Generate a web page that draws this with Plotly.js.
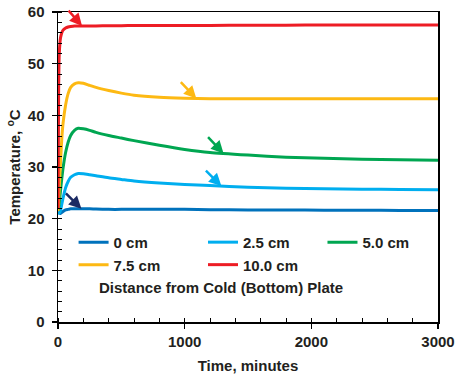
<!DOCTYPE html>
<html>
<head>
<meta charset="utf-8">
<script src="https://cdn.plot.ly/plotly-3.0.1.min.js"></script>
<style>html,body{margin:0;padding:0;background:#fff;}#chart{width:457px;height:378px;}</style>
</head>
<body>
<div id="chart"></div>
<script>
// ---- data ----
const timeMin = [0, 5, 10, 20, 30, 40, 60, 80, 100, 130, 160, 200, 250, 300, 400, 500, 600, 800, 1000, 1200, 1500, 1800, 2100, 2400, 2700, 3000];
const seriesNames = ["0 cm", "2.5 cm", "5.0 cm", "7.5 cm", "10.0 cm"];
const temp0cm   = [21.3, 21.2, 21.1, 21.0, 21.2, 21.4, 21.7, 21.8, 21.9, 21.9, 21.9, 21.9, 21.9, 21.85, 21.8, 21.8, 21.8, 21.8, 21.8, 21.75, 21.7, 21.7, 21.65, 21.65, 21.6, 21.6];
const temp25cm  = [21.2, 21.1, 21.1, 21.6, 22.8, 24.0, 26.0, 27.2, 28.0, 28.5, 28.75, 28.7, 28.5, 28.3, 27.9, 27.6, 27.3, 26.9, 26.6, 26.4, 26.1, 25.9, 25.8, 25.7, 25.65, 25.6];
const temp50cm  = [21.5, 22.0, 23.0, 25.5, 27.8, 29.8, 32.8, 34.8, 36.1, 37.1, 37.5, 37.4, 37.1, 36.7, 36.1, 35.6, 35.1, 34.2, 33.4, 32.8, 32.3, 31.9, 31.7, 31.5, 31.4, 31.3];
const temp75cm  = [21.5, 23.5, 26.0, 31.0, 35.5, 38.5, 42.0, 44.2, 45.4, 46.1, 46.3, 46.2, 45.8, 45.4, 44.8, 44.3, 43.9, 43.5, 43.3, 43.2, 43.2, 43.2, 43.2, 43.2, 43.2, 43.2];
const temp100cm = [22.0, 45.0, 52.0, 55.0, 56.0, 56.5, 56.9, 57.1, 57.2, 57.3, 57.3, 57.3, 57.3, 57.3, 57.35, 57.35, 57.4, 57.4, 57.4, 57.4, 57.45, 57.45, 57.5, 57.5, 57.5, 57.5];
const xTickVals = [0, 1000, 2000, 3000];
const yTickVals = [0, 10, 20, 30, 40, 50, 60];
// times at which the pointer arrows touch each curve
const arrowTimes = [185, 1290, 1307, 1092, 190];

// ---- styles ----
const colors = ["#0072BC", "#00AEEF", "#00A651", "#FDB913", "#ED1C24"];
const arrowColors = ["#1B2A63", "#00AEEF", "#00A651", "#FDB913", "#ED1C24"];
const legendIds = ["legend", "legend2", "legend3", "legend", "legend2"];
const allTemps = [temp0cm, temp25cm, temp50cm, temp75cm, temp100cm];
const textColor = "#231F20";
const fontFam = "Liberation Sans, Arial, sans-serif";

function interp(xs, ys, x) {
  for (let i = 0; i < xs.length - 1; i++) {
    if (x >= xs[i] && x <= xs[i + 1]) {
      const f = (x - xs[i]) / (xs[i + 1] - xs[i]);
      return ys[i] + f * (ys[i + 1] - ys[i]);
    }
  }
  return ys[ys.length - 1];
}

const traces = allTemps.map((ys, i) => ({
  x: timeMin, y: ys, name: seriesNames[i], type: "scatter", mode: "lines",
  legend: legendIds[i],
  line: {color: colors[i], width: 3, shape: "spline", smoothing: 0.6}
}));

const arrowOffsets = [[-17, -17], [-17, -17], [-17, -18], [-17, -18], [-15, -17]];
const annotations = allTemps.map((ys, i) => ({
  x: arrowTimes[i], y: interp(timeMin, ys, arrowTimes[i]), xref: "x", yref: "y",
  ax: arrowOffsets[i][0], ay: arrowOffsets[i][1], axref: "pixel", ayref: "pixel",
  showarrow: true, arrowhead: 2, arrowsize: 1, arrowwidth: 2.5, arrowcolor: arrowColors[i],
  text: " ", font: {size: 1}
}));
annotations.push({
  x: 1283, y: 6.7, xref: "x", yref: "y", showarrow: false,
  text: "Distance from Cold (Bottom) Plate",
  font: {family: fontFam, size: 15, color: textColor, weight: "bold"}
});

const axisCommon = {
  showgrid: false, zeroline: false, showline: true, linecolor: "#000", linewidth: 1.5,
  mirror: true, ticks: "outside", ticklen: 5, tickwidth: 1.5, tickcolor: "#000",
  tickfont: {family: fontFam, size: 15, color: textColor, weight: "bold"}
};

function legendAt(x) {
  return {
    orientation: "v", x: x, xanchor: "left", y: 0.31, yanchor: "top",
    bgcolor: "rgba(0,0,0,0)", borderwidth: 0, traceorder: "normal",
    font: {family: fontFam, size: 15, color: textColor, weight: "bold"}
  };
}

const layout = {
  width: 457, height: 378,
  margin: {l: 58, r: 19, t: 12, b: 56},
  paper_bgcolor: "#fff", plot_bgcolor: "#fff",
  showlegend: true,
  xaxis: Object.assign({}, axisCommon, {
    range: [0, 3000], tickvals: xTickVals,
    minor: {dtick: 200, tick0: 0, ticks: "inside", ticklen: 4, tickwidth: 1, tickcolor: "#000"},
    title: {text: "Time, minutes", standoff: 12, font: {family: fontFam, size: 15, color: textColor, weight: "bold"}}
  }),
  yaxis: Object.assign({}, axisCommon, {
    range: [0, 60], tickvals: yTickVals, ticklabelstandoff: 4,
    minor: {dtick: 2, tick0: 0, ticks: "inside", ticklen: 4, tickwidth: 1, tickcolor: "#000"},
    title: {text: "Temperature, <sup>o</sup>C", standoff: 3, font: {family: fontFam, size: 15, color: textColor, weight: "bold"}}
  }),
  legend: legendAt(0.041),
  legend2: legendAt(0.3816),
  legend3: legendAt(0.696),
  annotations: annotations
};

Plotly.newPlot("chart", traces, layout, {displayModeBar: false, staticPlot: true});
</script>
</body>
</html>
